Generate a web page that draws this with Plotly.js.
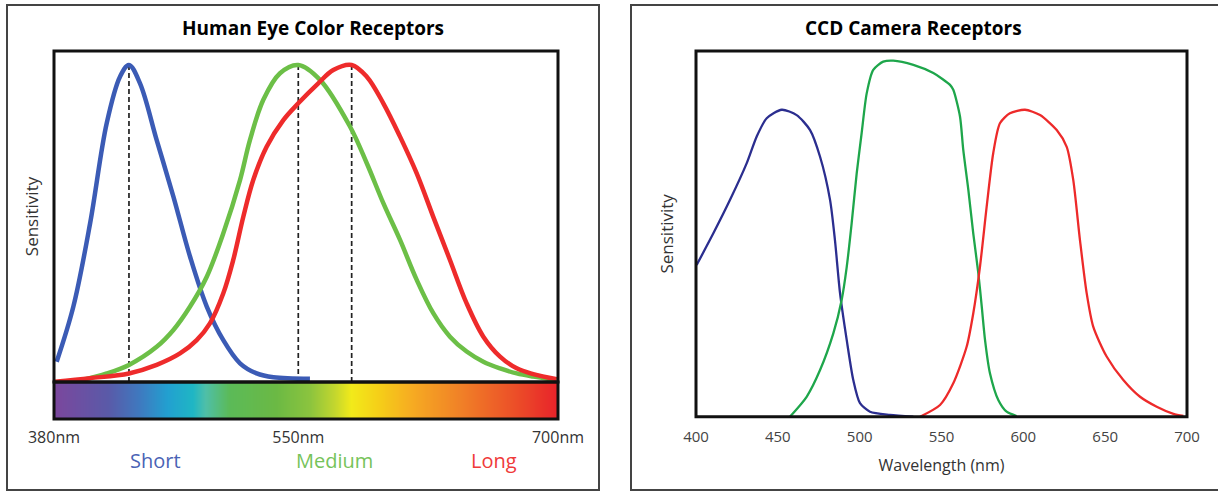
<!DOCTYPE html>
<html>
<head>
<meta charset="utf-8">
<script src="https://cdn.plot.ly/plotly-3.0.1.min.js"></script>
<style>
  html, body { margin: 0; padding: 0; background: #ffffff; }
  #chart { width: 1218px; height: 491px; }
</style>
</head>
<body>
<div id="chart"></div>
<script>
// ---------------- Data: Human eye cone sensitivities ----------------
const shortNm  = [381.7, 392.3, 402.9, 413.5, 421.9, 427.6, 434.6, 445.2, 455.8, 466.4, 477.0, 487.5, 498.1, 508.7, 519.3, 542.5];
const shortVal = [0.064, 0.238, 0.50, 0.817, 0.963, 1.0, 0.942, 0.763, 0.585, 0.395, 0.238, 0.132, 0.059, 0.027, 0.015, 0.010];

const mediumNm  = [397.6, 413.5, 427.6, 445.2, 455.8, 466.4, 477.0, 487.5, 498.1, 504.4, 512.9, 523.5, 535.1, 548.9, 568.0, 578.6, 589.1, 599.7, 610.3, 620.8, 631.4, 642.0, 652.6, 663.2, 673.8, 684.3, 699.2];
const mediumVal = [0.006, 0.027, 0.054, 0.111, 0.164, 0.238, 0.332, 0.469, 0.637, 0.763, 0.890, 0.974, 1.0, 0.953, 0.805, 0.69, 0.564, 0.448, 0.322, 0.217, 0.143, 0.096, 0.064, 0.043, 0.027, 0.017, 0.006];

const longNm  = [380.6, 402.9, 427.6, 445.2, 460.0, 470.6, 479.0, 487.5, 493.8, 500.2, 506.5, 515.0, 525.6, 535.1, 547.8, 557.3, 569.0, 578.6, 589.1, 599.7, 610.3, 620.8, 631.4, 642.0, 652.6, 663.2, 673.8, 684.3, 699.2];
const longVal = [0.001, 0.012, 0.027, 0.054, 0.09, 0.132, 0.185, 0.28, 0.385, 0.521, 0.637, 0.742, 0.826, 0.879, 0.942, 0.984, 1.0, 0.963, 0.879, 0.774, 0.658, 0.521, 0.385, 0.248, 0.143, 0.08, 0.043, 0.025, 0.009];

const peakNm  = [427.6, 535.1, 569.0];
const peakVal = [1.0, 1.0, 1.0];
const coneNames = ["Short", "Medium", "Long"];

const eyeTickVals = [380, 535.1, 700];
const eyeTickText = ["380nm", "550nm", "700nm"];

// visible spectrum colour stops
const specNm = [380, 414, 435, 452, 468, 476, 491, 521, 542.5, 558, 568.6, 585.7, 607, 639, 671.4, 700];
const specColors = ["#7b479d", "#5a5aa8", "#3d7bc0", "#22a0d0", "#1fb6c4", "#4fbfa8", "#5bba58", "#6bb944", "#8cc43e", "#c3d62e", "#f2ea1a", "#f5cf18", "#f6ab22", "#f07f27", "#ec5028", "#e8222a"];

// ---------------- Data: CCD camera receptors ----------------
const ccdBlueNm  = [400.4, 410.6, 420.8, 431.0, 437.1, 443.2, 452.4, 461.5, 469.7, 475.8, 481.9, 484.9, 488.0, 492.1, 496.1, 500.2, 506.3, 518.5, 532.8];
const ccdBlueVal = [0.426, 0.515, 0.609, 0.712, 0.787, 0.838, 0.862, 0.847, 0.805, 0.730, 0.609, 0.496, 0.347, 0.215, 0.103, 0.038, 0.014, 0.005, 0.0];

const ccdGreenNm  = [457.4, 467.6, 475.8, 483.9, 489.0, 492.1, 495.1, 498.2, 501.2, 504.3, 508.3, 514.4, 520.5, 532.8, 545.0, 555.2, 557.2, 561.3, 563.3, 566.4, 569.4, 572.5, 574.6, 576.6, 579.6, 584.7, 589.8, 595.9];
const ccdGreenVal = [0.0, 0.056, 0.131, 0.234, 0.328, 0.421, 0.543, 0.684, 0.796, 0.908, 0.974, 0.997, 1.0, 0.988, 0.965, 0.932, 0.918, 0.843, 0.749, 0.637, 0.515, 0.403, 0.309, 0.215, 0.122, 0.047, 0.014, 0.002];

const ccdRedNm  = [536.9, 549.1, 557.2, 565.4, 569.4, 573.5, 577.6, 581.6, 585.7, 591.8, 601.0, 610.2, 620.4, 626.5, 630.5, 634.6, 638.7, 642.7, 650.9, 661.1, 671.3, 681.5, 691.7, 697.8];
const ccdRedVal = [0.0, 0.033, 0.094, 0.197, 0.29, 0.421, 0.59, 0.74, 0.824, 0.852, 0.862, 0.847, 0.805, 0.758, 0.665, 0.496, 0.347, 0.253, 0.169, 0.103, 0.056, 0.028, 0.008, 0.002];

const ccdTickVals = [400, 450, 500, 550, 600, 650, 700];

// ---------------- Layout helpers (pixel -> paper) ----------------
const W = 1218, H = 491;
const px = v => v / W;
const py = v => 1 - v / H;
const FONT = "Open Sans, Noto Sans, sans-serif";

const eyeColors = ["#3b5bb5", "#6cbf47", "#ee2b2b"];
const ccdColors = ["#2b2e8f", "#1ea64b", "#ed2a2a"];

const traces = [];

// spectrum bar
const specScale = specNm.map((n, i) => [(n - 380) / 320, specColors[i]]);
traces.push({
  type: "heatmap", xaxis: "x2", yaxis: "y2",
  x: [specNm[0], specNm[specNm.length - 1]],
  z: [[specNm[0], specNm[specNm.length - 1]]],
  zmin: 380, zmax: 700, zsmooth: "best",
  colorscale: specScale, showscale: false, hoverinfo: "skip"
});

// dashed peak markers
peakNm.forEach((n, i) => {
  traces.push({
    type: "scatter", mode: "lines", xaxis: "x", yaxis: "y",
    x: [n, n], y: [0, peakVal[i]],
    line: { color: "#222222", width: 1.7, dash: "5px,3px" },
    showlegend: false, hoverinfo: "skip"
  });
});

// eye cones
[[shortNm, shortVal], [mediumNm, mediumVal], [longNm, longVal]].forEach((s, i) => {
  traces.push({
    type: "scatter", mode: "lines", xaxis: "x", yaxis: "y",
    name: coneNames[i], x: s[0], y: s[1],
    line: { color: eyeColors[i], width: 4.5, shape: "spline", smoothing: 1.0 },
    showlegend: false
  });
});

// CCD
[[ccdBlueNm, ccdBlueVal], [ccdGreenNm, ccdGreenVal], [ccdRedNm, ccdRedVal]].forEach((s, i) => {
  traces.push({
    type: "scatter", mode: "lines", xaxis: "x3", yaxis: "y3",
    x: s[0], y: s[1],
    line: { color: ccdColors[i], width: 2.3, shape: "spline", smoothing: 0.7 },
    showlegend: false
  });
});

const hiddenAxis = { showgrid: false, zeroline: false, showline: false, showticklabels: false, ticks: "" };

const layout = {
  width: W, height: H,
  margin: { l: 0, r: 0, t: 0, b: 0 },
  paper_bgcolor: "#ffffff", plot_bgcolor: "rgba(0,0,0,0)",
  font: { family: FONT, color: "#333333" },
  showlegend: false,
  xaxis: Object.assign({}, hiddenAxis, { domain: [px(54), px(558)], range: [380, 700], anchor: "y" }),
  yaxis: Object.assign({}, hiddenAxis, {
    domain: [py(382), py(51)], range: [0, 1.044], anchor: "x",
    title: { text: "Sensitivity", font: { size: 17, color: "#333333" }, standoff: 10 }
  }),
  xaxis2: Object.assign({}, hiddenAxis, {
    domain: [px(54), px(558)], range: [380, 700], anchor: "y2",
    showticklabels: true, tickvals: eyeTickVals, ticktext: eyeTickText,
    tickfont: { size: 16, color: "#333333" }, ticklabelstandoff: 7
  }),
  yaxis2: Object.assign({}, hiddenAxis, { domain: [py(419), py(382)], range: [-0.5, 0.5], anchor: "x2" }),
  xaxis3: Object.assign({}, hiddenAxis, {
    domain: [px(696), px(1187)], range: [400, 700], anchor: "y3",
    showticklabels: true, tickvals: ccdTickVals, ticktext: ccdTickVals.map(String),
    tickfont: { size: 15, color: "#444444" }, ticklabelstandoff: 9,
    title: { text: "Wavelength (nm)", font: { size: 16, color: "#333333" }, standoff: 15 }
  }),
  yaxis3: Object.assign({}, hiddenAxis, {
    domain: [py(416.7), py(51)], range: [0, 1.027], anchor: "x3",
    title: { text: "Sensitivity", font: { size: 17, color: "#333333" }, standoff: 17 }
  }),
  shapes: [
    // outer panels
    { type: "rect", xref: "paper", yref: "paper", x0: px(7), x1: px(599), y0: py(490), y1: py(5), line: { color: "#444444", width: 2 } },
    { type: "rect", xref: "paper", yref: "paper", x0: px(631), x1: px(1240), y0: py(490), y1: py(5), line: { color: "#444444", width: 2 } },
    // plot frames
    { type: "rect", xref: "paper", yref: "paper", x0: px(54), x1: px(558), y0: py(382), y1: py(51), line: { color: "#111111", width: 3 } },
    { type: "rect", xref: "paper", yref: "paper", x0: px(54), x1: px(558), y0: py(419), y1: py(382), line: { color: "#111111", width: 3 } },
    { type: "rect", xref: "paper", yref: "paper", x0: px(696), x1: px(1187), y0: py(416.7), y1: py(51), line: { color: "#111111", width: 3 } }
  ],
  annotations: [
    { text: "Human Eye Color Receptors", xref: "paper", yref: "paper", x: px(313), y: py(28), showarrow: false,
      xanchor: "center", yanchor: "middle", font: { size: 19, color: "#000000", weight: 700 } },
    { text: "CCD Camera Receptors", xref: "paper", yref: "paper", x: px(913), y: py(28), showarrow: false,
      xanchor: "center", yanchor: "middle", font: { size: 19, color: "#000000", weight: 700 } },
    { text: coneNames[0], xref: "paper", yref: "paper", x: px(155), y: py(460), showarrow: false,
      xanchor: "center", yanchor: "middle", font: { size: 20, color: "#4a63b5" } },
    { text: coneNames[1], xref: "paper", yref: "paper", x: px(334), y: py(460), showarrow: false,
      xanchor: "center", yanchor: "middle", font: { size: 20, color: "#76c35a" } },
    { text: coneNames[2], xref: "paper", yref: "paper", x: px(494), y: py(460), showarrow: false,
      xanchor: "center", yanchor: "middle", font: { size: 20, color: "#ef3a3a" } }
  ]
};

Plotly.newPlot("chart", traces, layout, { staticPlot: true, displayModeBar: false });
</script>
</body>
</html>
